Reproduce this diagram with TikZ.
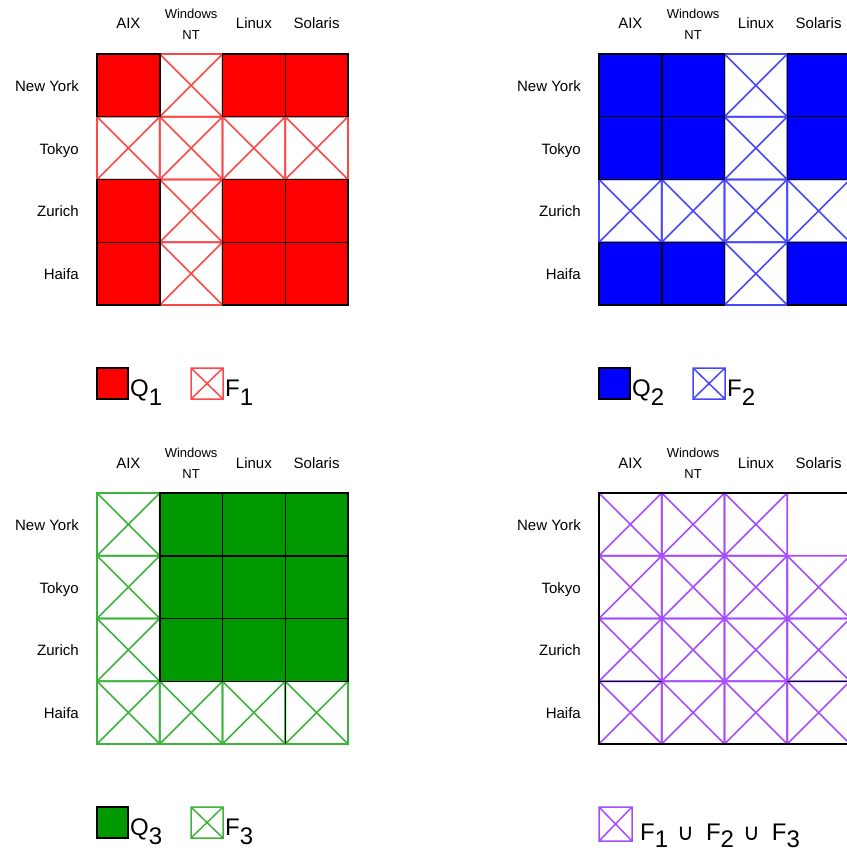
\documentclass[tikz,border=0pt]{standalone}
\usepackage{fontspec}
\setmainfont{Liberation Sans}
\newfontfamily\cupfont{DejaVu Sans}
\definecolor{qred}{HTML}{FF0000}
\definecolor{fred}{HTML}{FF4747}
\definecolor{qblue}{HTML}{0000FF}
\definecolor{fblue}{HTML}{4747FF}
\definecolor{qgreen}{HTML}{009900}
\definecolor{fgreen}{HTML}{3DB33D}
\definecolor{fpurple}{HTML}{A64DFF}

\newcommand{\cellw}{62.75}
% filled cell: colour, column, row
\newcommand{\qcell}[3]{\filldraw[fill=#1,draw=black,line width=1.5pt] ({(#2-1)*\cellw},{(#3-1)*\cellw}) rectangle ++(\cellw,\cellw);}
% crossed cell: colour, column, row
\newcommand{\fcell}[3]{\draw[#1,line width=1.6pt] ({(#2-1)*\cellw},{(#3-1)*\cellw}) rectangle ++(\cellw,\cellw) -- ++(-\cellw,-\cellw) ++(\cellw,0) -- ++(-\cellw,\cellw);}
% column and row headers of one panel
\newcommand{\axislabels}[1]{%
  \node[collab] (#1aix) at ({0.5*\cellw},-25) {AIX};
  \node[collab,anchor=center,align=center,font=\fontsize{13}{21}\selectfont] (#1win) at ({1.5*\cellw},-30) {Windows\\NT};
  \node[collab] (#1lin) at ({2.5*\cellw},-25) {Linux};
  \node[collab] (#1sol) at ({3.5*\cellw},-25) {Solaris};
  \foreach \city [count=\j] in {New York,Tokyo,Zurich,Haifa}
    \node[rowlab] (#1row\j) at (-18,{(\j-0.5)*\cellw+6}) {\city};}
% legend under a panel: fill colour, cross colour, index
\newcommand{\legendrow}[3]{%
  \filldraw[fill=#1,draw=black,line width=1.5pt] (0,314) rectangle (31,345);
  \node[legtext] (q#3) at (33,342) {Q\raisebox{-9pt}{#3}};
  \draw[#2,line width=1.5pt] (94,314) rectangle (126,345) -- (94,314) (126,314) -- (94,345);
  \node[legtext] (f#3) at (128,342) {F\raisebox{-9pt}{#3}};}
\newcommand{\cupsign}{\hspace{9pt}{\cupfont\fontsize{23}{23}\selectfont ∪}\hspace{12pt}}

\begin{document}
\begin{tikzpicture}[x=1pt,y=-1pt,
  collab/.style={anchor=base,inner sep=0pt,font=\fontsize{15}{18}\selectfont},
  rowlab/.style={anchor=base east,inner sep=0pt,font=\fontsize{15}{18}\selectfont},
  legtext/.style={anchor=base west,inner sep=0pt,font=\fontsize{24}{30}\selectfont}]
  \useasboundingbox (0,0) rectangle (846,856);

  % Q1 / F1
  \begin{scope}[shift={(97,54)}]
    \axislabels{a}
    \foreach \c in {1,...,4} {\fcell{fred}{\c}{2}}
    \foreach \r in {1,3,4} {\fcell{fred}{2}{\r}}
    \foreach \c in {1,3,4} \foreach \r in {1,3,4} {\qcell{qred}{\c}{\r}}
    \legendrow{qred}{fred}{1}
  \end{scope}

  % Q2 / F2
  \begin{scope}[shift={(599,54)}]
    \axislabels{b}
    \foreach \c in {1,...,4} {\fcell{fblue}{\c}{3}}
    \foreach \r in {1,2,4} {\fcell{fblue}{3}{\r}}
    \foreach \c in {1,2,4} \foreach \r in {1,2,4} {\qcell{qblue}{\c}{\r}}
    \legendrow{qblue}{fblue}{2}
  \end{scope}

  % Q3 / F3
  \begin{scope}[shift={(97,493)}]
    \axislabels{c}
    \foreach \c in {1,...,4} {\fcell{fgreen}{\c}{4}}
    \foreach \r in {1,2,3} {\fcell{fgreen}{1}{\r}}
    \foreach \c in {2,3,4} \foreach \r in {1,2,3} {\qcell{qgreen}{\c}{\r}}
    \draw[line width=1.5pt] ({3*\cellw},{3*\cellw}) -- ({3*\cellw},{4*\cellw});
    \legendrow{qgreen}{fgreen}{3}
  \end{scope}

  % union of the three F sets
  \begin{scope}[shift={(599,493)}]
    \axislabels{d}
    \foreach \c in {1,...,4} \foreach \r in {2,3,4} {\fcell{fpurple}{\c}{\r}}
    \foreach \c in {1,2,3} {\fcell{fpurple}{\c}{1}}
    \draw[line width=1.5pt] (0,0) rectangle ({4*\cellw},{4*\cellw});
    \draw[line width=1.5pt] (0,{3*\cellw}) -- (\cellw,{3*\cellw}) ({3*\cellw},{3*\cellw}) -- ({4*\cellw},{3*\cellw});
    \draw[fpurple,line width=1.5pt] (0,314) rectangle (33,348) -- (0,314) (33,314) -- (0,348);
    \node[legtext] (fu) at (41,347)
      {F\raisebox{-7pt}{1}\cupsign F\raisebox{-7pt}{2}\cupsign F\raisebox{-7pt}{3}};
  \end{scope}
\end{tikzpicture}
\end{document}
